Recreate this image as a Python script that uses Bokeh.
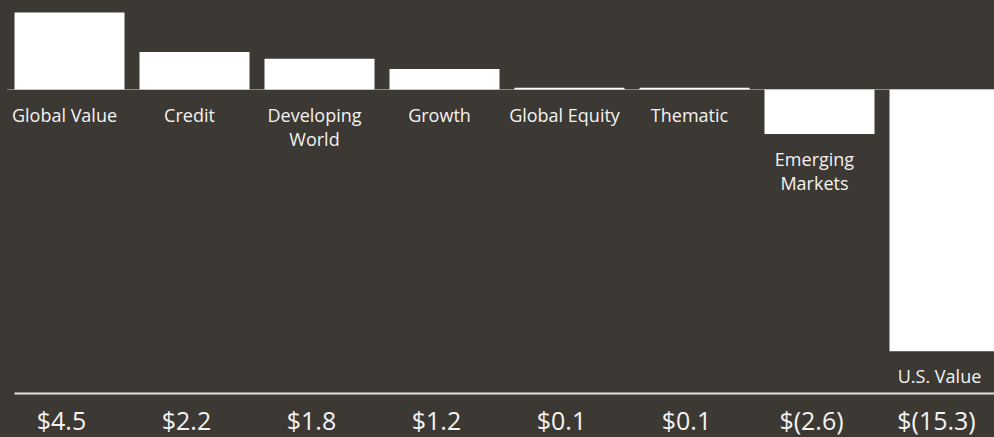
from bokeh.plotting import figure
from bokeh.models import ColumnDataSource, Range1d, GlobalInlineStyleSheet
from bokeh.core.properties import value
from bokeh.embed import file_html
from bokeh.resources import INLINE

categories = ["Global Value", "Credit", "Developing\nWorld", "Growth", "Global Equity",
              "Thematic", "Emerging\nMarkets", "U.S. Value"]
flows = [4.5, 2.2, 1.8, 1.2, 0.1, 0.1, -2.6, -15.3]

BG = "#3c3834"
W, H = 994, 437
PX_PER_UNIT = 17.1
STEP = 125.0
FIRST_CENTER = 69.0
ZERO_Y = 89.0

xs = list(range(len(flows)))
value_labels = [f"${v:.1f}" if v >= 0 else f"$({abs(v):.1f})" for v in flows]
bottoms = [min(v, 0.0) for v in flows]
tops = [max(v, 0.0) for v in flows]

src = ColumnDataSource(dict(x=xs, top=tops, bottom=bottoms, cat=categories,
                            lab=value_labels, ly=bottoms))

p = figure(width=W, height=H, output_backend="svg", toolbar_location=None,
           min_border=0, background_fill_color=BG, border_fill_color=BG,
           outline_line_color=None,
           x_range=Range1d(-FIRST_CENTER / STEP, (W - FIRST_CENTER) / STEP),
           y_range=Range1d(-(H - ZERO_Y) / PX_PER_UNIT, ZERO_Y / PX_PER_UNIT))
p.axis.visible = False
p.grid.visible = False

# zero line
p.segment(x0=[-0.5], x1=[len(flows) - 0.5], y0=[0], y1=[0], line_color="#8e8a85", line_width=1)

p.vbar(x="x", top="top", bottom="bottom", width=110 / STEP, source=src,
       fill_color="white", line_color=None)

p.text(x="x", y="ly", text="cat", source=src, x_offset=-5, y_offset=13,
       text_align="center", text_baseline="top", text_color="#f4f3f1",
       text_font=value("Open Sans"), text_font_size="18px", text_line_height=1.0)

base_y = -(393 - ZERO_Y) / PX_PER_UNIT
p.segment(x0=[(14 - FIRST_CENTER) / STEP], x1=[(W - FIRST_CENTER) / STEP],
          y0=[base_y], y1=[base_y], line_color="#e6e4e1", line_width=2)

p.text(x="x", y=base_y, text="lab", source=src, x_offset=-8, y_offset=9,
       text_align="center", text_baseline="top", text_color="#f4f3f1",
       text_font=value("Open Sans"), text_font_size="25px", text_line_height=1.0)

p.stylesheets = [GlobalInlineStyleSheet(css=f"body{{margin:0;background:{BG};overflow:hidden}}")]

open("out.html", "w").write(file_html(p, INLINE))
